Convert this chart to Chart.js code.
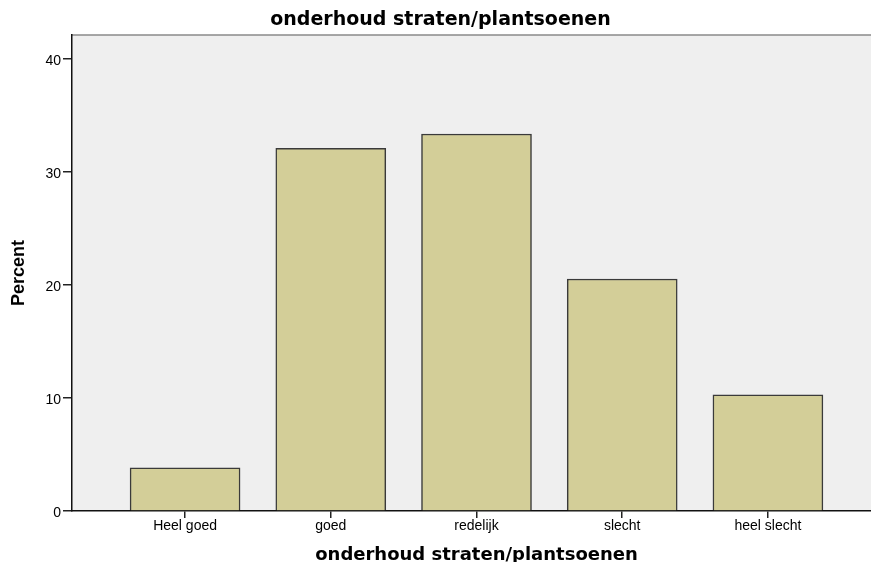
<!DOCTYPE html>
<html>
<head>
<meta charset="utf-8">
<script src="https://cdn.jsdelivr.net/npm/chart.js@4"></script>
<style>
  html, body { margin: 0; padding: 0; background: #ffffff; overflow: hidden; }
  #wrap { width: 881px; height: 562px; }
</style>
</head>
<body>
<div id="wrap"><canvas id="c" width="881" height="562"></canvas></div>
<script>
const categories = ['Heel goed', 'goed', 'redelijk', 'slecht', 'heel slecht'];
const percentValues = [3.83, 32.1, 33.36, 20.53, 10.27];
const yTickValues = [0, 10, 20, 30, 40];
const chartTitle = 'onderhoud straten/plantsoenen';
const xAxisTitle = 'onderhoud straten/plantsoenen';
const yAxisTitle = 'Percent';

const plotBg = {
  id: 'plotBg',
  beforeDraw(chart) {
    const { ctx, chartArea: a } = chart;
    ctx.save();
    ctx.fillStyle = '#efefef';
    ctx.fillRect(a.left, a.top, a.right - a.left, a.bottom - a.top);
    ctx.strokeStyle = '#8a8a8a';
    ctx.lineWidth = 1.5;
    ctx.beginPath();
    ctx.moveTo(a.left, a.top);
    ctx.lineTo(a.right, a.top);
    ctx.stroke();
    ctx.restore();
  }
};

new Chart(document.getElementById('c'), {
  type: 'bar',
  data: {
    datasets: [{
      data: percentValues.map((v, i) => ({ x: i, y: v })),
      backgroundColor: '#d3ce98',
      borderColor: '#3a3a3a',
      borderWidth: 1.5,
      borderSkipped: 'bottom',
      barThickness: 110
    }]
  },
  options: {
    responsive: false,
    animation: false,
    devicePixelRatio: 1,
    layout: { padding: 0 },
    plugins: {
      legend: { display: false },
      tooltip: { enabled: false },
      title: {
        display: true,
        text: chartTitle,
        color: '#000',
        font: { family: 'DejaVu Sans', weight: 'bold', size: 19, lineHeight: 1.2 },
        padding: { top: 9, bottom: 3.2 }
      }
    },
    scales: {
      x: {
        type: 'linear',
        min: -0.776,
        max: 4.776,
        offset: false,
        afterBuildTicks(scale) { scale.ticks = categories.map((c, i) => ({ value: i })); },
        afterFit(scale) { scale.height = 51; },
        ticks: {
          color: '#000',
          font: { family: 'Liberation Sans', size: 14 },
          padding: 0,
          maxRotation: 0,
          autoSkip: false,
          callback: (v) => categories[Math.round(v)]
        },
        grid: { drawOnChartArea: false, drawTicks: true, tickLength: 7, color: '#222', offset: false, lineWidth: 1.5 },
        border: { display: true, color: '#111', width: 1.5 },
        title: {
          display: true,
          text: xAxisTitle,
          color: '#000',
          font: { family: 'DejaVu Sans', weight: 'bold', size: 18, lineHeight: 0.78 },
          padding: { top: 0, bottom: 0 }
        }
      },
      y: {
        min: 0,
        max: 42.12,
        afterBuildTicks(scale) { scale.ticks = yTickValues.map(v => ({ value: v })); },
        afterFit(scale) { scale.width = 72; },
        ticks: {
          color: '#000',
          font: { family: 'Liberation Sans', size: 14 },
          padding: 2,
          labelOffset: 2
        },
        grid: { drawOnChartArea: false, drawTicks: true, tickLength: 9, color: '#222', lineWidth: 1.5 },
        border: { display: true, color: '#111', width: 1.5 },
        title: {
          display: true,
          text: yAxisTitle,
          color: '#000',
          font: { family: 'Liberation Sans', weight: 'bold', size: 18, lineHeight: 1.2 },
          padding: { top: 8, bottom: 0 }
        }
      }
    }
  },
  plugins: [plotBg]
});
</script>
</body>
</html>
